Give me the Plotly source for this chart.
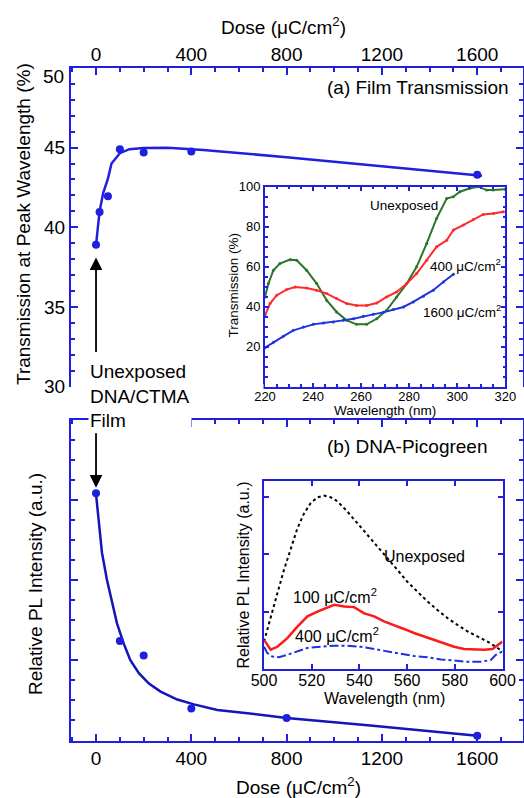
import plotly.graph_objects as go

W, H = 524, 798
FONT = "Liberation Sans, Arial, Helvetica, sans-serif"
BLUE = "#1f1fe0"
NAVY = "#1414b8"

# ---- (a) film transmission at peak wavelength vs dose ----
dose_a = [0, 15, 50, 100, 200, 400, 1600]
trans_a = [38.9, 40.95, 41.95, 44.9, 44.7, 44.75, 43.3]
fit_dose_a = [0, 15, 30, 50, 65, 100, 140, 200, 300, 450, 800, 1200, 1620]
fit_trans_a = [38.9, 41.0, 42.15, 43.05, 44.0, 44.65, 44.9, 44.97, 45.0, 44.85, 44.4, 43.85, 43.23]

# ---- (b) DNA-Picogreen PL intensity vs dose ----
dose_b = [0, 100, 200, 400, 800, 1600]
pl_b = [3.08, 1.24, 1.06, 0.40, 0.28, 0.06]
fit_dose_b = [0, 11, 25, 46, 67, 88, 116, 144, 180, 222, 271, 341, 411, 509, 636, 800, 1140, 1600]
fit_pl_b = [3.07, 2.76, 2.34, 2.0, 1.71, 1.46, 1.21, 1.0, 0.84, 0.71, 0.61, 0.51, 0.45, 0.38,
            0.34, 0.28, 0.19, 0.06]

# ---- inset (a): transmission spectra ----
wl_unexp = [220, 221.4, 223.5, 226.2, 230.4, 233.2, 237.3, 241.5, 245.7, 249.8, 254, 258.1, 262.3,
            266.5, 270.6, 274.8, 279, 283.1, 287.3, 291.4, 295.6, 298.4, 301.1, 305.3, 308.8, 312.2,
            315, 319.9]
t_unexp = [44.8, 51.5, 58.2, 61.5, 63.5, 63.2, 58.2, 51.5, 43.1, 37.3, 33.1, 31.1, 31.1,
           33.9, 38.1, 44.8, 51.5, 59.9, 71.6, 84.1, 94.1, 95.0, 97.5, 99.2, 100.0, 98.3,
           98.3, 98.7]
wl_400 = [220, 222.1, 224.9, 229, 232.5, 237.3, 241.5, 245.7, 249.8, 254, 258.1, 262.3, 266.5,
          270.6, 274.8, 279, 283.1, 287.3, 291.4, 295.6, 298.4, 302.5, 306.7, 310.8, 315, 319.2]
t_400 = [35.6, 41.5, 45.7, 48.5, 49.8, 49.3, 48.2, 46.5, 44.0, 41.5, 40.6, 40.6, 41.8,
         44.8, 47.3, 51.5, 56.5, 63.2, 69.9, 73.2, 78.3, 80.8, 83.6, 86.1, 86.6, 87.5]
wl_1600 = [220, 223.5, 227.6, 231.8, 236, 240.1, 244.3, 248.4, 252.6, 256.8, 260.9, 265.1, 269.2,
           273.4, 277.6, 281.7, 285.9, 290, 294.2, 298.4]
t_1600 = [19.4, 22.2, 25.1, 28.1, 29.8, 31.1, 31.8, 32.3, 33.1, 33.9, 35.1, 36.1, 37.1,
          38.5, 39.8, 42.3, 45.2, 48.2, 52.3, 56.2]

# ---- inset (b): PL spectra ----
wl_pl_unexp = [500, 502.8, 505.6, 508.4, 511.2, 514, 516.8, 519.6, 522.4, 525.2, 528, 530.8, 535,
               539.2, 543.4, 547.6, 551.7, 555.9, 560.1, 564.3, 568.5, 572.7, 576.9, 581.1,
               585.3, 589.5, 593.7, 597.2, 600]
pl_unexp = [0.48, 0.92, 1.32, 1.73, 2.10, 2.45, 2.71, 2.89, 2.99, 3.02, 2.99, 2.92, 2.74,
            2.54, 2.34, 2.13, 1.93, 1.73, 1.52, 1.35, 1.18, 1.03, 0.89, 0.77,
            0.66, 0.57, 0.48, 0.39, 0.31]
wl_pl_100 = [500, 501.1, 502.8, 505.6, 509.8, 514, 518.2, 522.4, 526.6, 529.4, 533.6, 537.8, 542,
             546.2, 550.3, 554.5, 558.7, 562.9, 567.1, 571.3, 575.5, 579.7, 583.9, 588.1,
             592.3, 595.8, 597.9, 600]
pl_100 = [0.51, 0.45, 0.34, 0.39, 0.54, 0.74, 0.92, 1.00, 1.08, 1.12, 1.09, 1.08, 0.97,
          0.92, 0.83, 0.77, 0.70, 0.63, 0.57, 0.51, 0.45, 0.39, 0.35, 0.34,
          0.34, 0.35, 0.42, 0.48]
wl_pl_400 = [500, 501.4, 503.5, 506.3, 509.8, 514, 518.2, 523.8, 529.4, 535, 540.6, 546.2, 551.7,
             557.3, 562.9, 568.5, 574.1, 579.7, 585.3, 590.9, 595.1, 597.2, 600]
pl_400 = [0.39, 0.28, 0.22, 0.21, 0.25, 0.31, 0.37, 0.39, 0.41, 0.41, 0.39, 0.35, 0.31,
          0.27, 0.23, 0.21, 0.17, 0.15, 0.13, 0.13, 0.16, 0.25, 0.31]

dose_ticks = [0, 400, 800, 1200, 1600]
trans_ticks = [30, 35, 40, 45]
inset_a_wl_ticks = [220, 240, 260, 280, 300, 320]
inset_a_t_ticks = [20, 40, 60, 80, 100]
inset_b_wl_ticks = [500, 520, 540, 560, 580, 600]


def dom_x(left, right):
    return [left / W, right / W]


def dom_y(top, bottom):
    return [1 - bottom / H, 1 - top / H]


def px(x):
    return x / W


def py(y):
    return 1 - y / H


def axis_style(size, ticklen, minorlen, width=2, tickwidth=2):
    return dict(
        showline=True, linecolor=BLUE, linewidth=width, automargin=False,
        ticks="inside", ticklen=ticklen, tickwidth=tickwidth, tickcolor=BLUE,
        showgrid=False, zeroline=False,
        tickfont=dict(family=FONT, size=size, color="black"),
        minor=dict(ticks="inside", ticklen=minorlen, tickwidth=tickwidth, tickcolor=BLUE,
                   showgrid=False) if minorlen else None,
    )


fig = go.Figure()

# main panel (a)
fig.add_trace(go.Scatter(x=fit_dose_a, y=fit_trans_a, mode="lines",
                         line=dict(color=BLUE, width=2.5), xaxis="x", yaxis="y",
                         showlegend=False))
fig.add_trace(go.Scatter(x=dose_a, y=trans_a, mode="markers",
                         marker=dict(color=BLUE, size=8), xaxis="x", yaxis="y",
                         showlegend=False))

# main panel (b)
fig.add_trace(go.Scatter(x=fit_dose_b, y=fit_pl_b, mode="lines",
                         line=dict(color=NAVY, width=2.5), xaxis="x2", yaxis="y2",
                         showlegend=False))
fig.add_trace(go.Scatter(x=dose_b, y=pl_b, mode="markers",
                         marker=dict(color=BLUE, size=8), xaxis="x2", yaxis="y2",
                         showlegend=False))

# inset (a) spectra
for wl, t, col in [(wl_unexp, t_unexp, "#2a762a"), (wl_400, t_400, "#ff2a2a"),
                   (wl_1600, t_1600, "#2233dd")]:
    fig.add_trace(go.Scatter(x=wl, y=t, mode="lines+markers",
                             line=dict(color=col, width=2), marker=dict(color=col, size=3),
                             xaxis="x3", yaxis="y3", showlegend=False))

# inset (b) spectra
fig.add_trace(go.Scatter(x=wl_pl_unexp, y=pl_unexp, mode="lines",
                         line=dict(color="black", width=2, dash="dot"),
                         xaxis="x4", yaxis="y4", showlegend=False))
fig.add_trace(go.Scatter(x=wl_pl_100, y=pl_100, mode="lines",
                         line=dict(color="#ff1a1a", width=2.5),
                         xaxis="x4", yaxis="y4", showlegend=False))
fig.add_trace(go.Scatter(x=wl_pl_400, y=pl_400, mode="lines",
                         line=dict(color="#1f2fe0", width=2, dash="dashdot"),
                         xaxis="x4", yaxis="y4", showlegend=False))

dose_range = [-105, 1792]

layout = dict(
    width=W, height=H, margin=dict(l=0, r=0, t=0, b=0, autoexpand=False),
    paper_bgcolor="white", plot_bgcolor="white",
    font=dict(family=FONT, color="black"),
    showlegend=False,
)

ax = axis_style(19, 7, 4)
ax.update(domain=dom_x(71, 523), anchor="y", side="top", range=dose_range,
          tickvals=dose_ticks, mirror=False, ticklabelstandoff=-3)
ax["minor"].update(dtick=100, tick0=0)
layout["xaxis"] = ax

ax5 = axis_style(19, 7, 4)
ax5.update(overlaying="x", anchor="y", side="bottom", range=dose_range,
           tickvals=[0, 400], showticklabels=False)
ax5["minor"].update(tickvals=[-100, 100, 200, 300, 500, 600])
layout["xaxis5"] = ax5

ay = axis_style(19, 7, 4)
ay.update(domain=dom_y(68, 386.5), anchor="x", range=[30, 50], tickvals=trans_ticks,
          mirror="allticks")
ay["minor"].update(dtick=1, tick0=30)
layout["yaxis"] = ay

ax2 = axis_style(19, 7, 4)
ax2.update(domain=dom_x(71, 523), anchor="y2", side="bottom", range=dose_range,
           tickvals=dose_ticks, mirror="allticks")
ax2["minor"].update(dtick=100, tick0=0)
layout["xaxis2"] = ax2

ay2 = axis_style(19, 7, 4)
ay2.update(domain=dom_y(419.5, 740.5), anchor="x2", range=[0, 4], dtick=1, tick0=0,
           showticklabels=False, mirror="allticks")
ay2["minor"].update(dtick=0.25)
layout["yaxis2"] = ay2

ax3 = axis_style(13, 4, 2.5, width=2, tickwidth=1.5)
ax3.update(domain=dom_x(265, 505.3), anchor="y3", range=[220, 320],
           tickvals=inset_a_wl_ticks, mirror="allticks", ticklabelstandoff=-3)
ax3["minor"].update(dtick=5, tick0=220)
layout["xaxis3"] = ax3

ay3 = axis_style(13, 4, 2.5, width=2, tickwidth=1.5)
ay3.update(domain=dom_y(186.7, 386.5), anchor="x3", range=[0, 100],
           tickvals=inset_a_t_ticks, mirror="allticks")
ay3["minor"].update(dtick=5, tick0=0)
layout["yaxis3"] = ay3

ax4 = axis_style(16, 5, 0)
ax4.update(domain=dom_x(264, 502.5), anchor="y4", range=[500, 600],
           tickvals=inset_b_wl_ticks, mirror="allticks", ticklabelstandoff=-4)
ax4.pop("minor")
layout["xaxis4"] = ax4

ay4 = axis_style(16, 5, 0)
ay4.update(domain=dom_y(481.2, 669.2), anchor="x4", range=[0, 3.27],
           tickvals=[1, 2, 3], showticklabels=False, mirror="allticks")
ay4.pop("minor")
layout["yaxis4"] = ay4

fig.update_layout(**layout)

# short white breaks in the lower frame of panel (a) on either side of its inset
for x0, x1 in [(257.5, 263.5), (507, 513)]:
    fig.add_shape(type="line", xref="paper", yref="paper", x0=px(x0), x1=px(x1),
                  y0=py(386.5), y1=py(386.5), line=dict(color="white", width=5),
                  layer="above")


def note(text, x, y, size, xanchor="center", yanchor="middle", angle=0, **kw):
    fig.add_annotation(text=text, x=px(x), y=py(y), xref="paper", yref="paper",
                       xanchor=xanchor, yanchor=yanchor, textangle=angle, showarrow=False,
                       font=dict(family=FONT, size=size, color="black"), **kw)


# top label of the transmission axis sits just below the corner
note("50", 66, 76, 19, xanchor="right")

dose_title = "Dose (\u03bcC/cm<sup>2</sup>)"
note(dose_title, 283, 26, 19)
note(dose_title, 298, 786, 19)
note("Transmission at Peak Wavelength (%)", 23, 224, 19, angle=-90)
note("Relative PL Intensity (a.u.)", 35, 584, 19, angle=-90)
note("(a) Film Transmission", 511, 87, 19, xanchor="right")
note("(b) DNA-Picogreen", 490, 446, 19, xanchor="right")

# inset (a) texts
note("Unexposed", 404, 205, 13.5)
note("400 \u03bcC/cm<sup>2</sup>", 503, 265, 13.5, xanchor="right")
note("1600 \u03bcC/cm<sup>2</sup>", 503, 311, 13.5, xanchor="right")
note("Transmission (%)", 233, 285.5, 13.5, angle=-90)
note("Wavelength (nm)", 385, 410, 13.5)

# inset (b) texts
note("Unexposed", 382, 556, 16, xanchor="left")
note("100 \u03bcC/cm<sup>2</sup>", 291, 596, 16, xanchor="left")
note("400 \u03bcC/cm<sup>2</sup>", 293, 635, 16, xanchor="left")
note("Relative PL Intensity (a.u.)", 243, 575.5, 16, angle=-90)
note("Wavelength (nm)", 384, 698, 16)

# label for the unexposed film, with arrows to the zero-dose points
note("Unexposed<br>DNA/CTMA<br>Film", 88, 396, 19, xanchor="left", align="left",
     bgcolor="white", borderpad=1)
fig.add_annotation(x=0, y=38.1, xref="x", yref="y", ax=0, ay=96, text="",
                   showarrow=True, arrowhead=2, arrowsize=1.4, arrowwidth=1.8,
                   arrowcolor="black")
fig.add_annotation(x=0, y=3.15, xref="x2", yref="y2", ax=0, ay=-56, text="",
                   showarrow=True, arrowhead=2, arrowsize=1.4, arrowwidth=1.8,
                   arrowcolor="black")

# the page body carries a default margin; remove it so the figure sits at the origin
fig.write_html("out.html", post_script="document.body.style.margin='0';")
